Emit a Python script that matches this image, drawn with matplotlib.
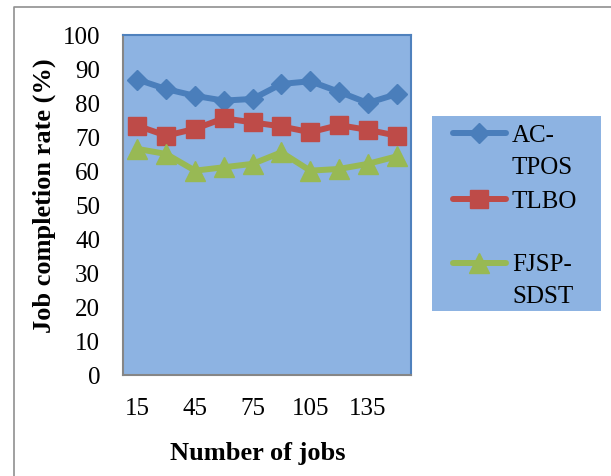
import matplotlib.pyplot as plt
from matplotlib.lines import Line2D
from matplotlib.patches import Rectangle

plt.rcParams['font.family'] = ['Liberation Serif', 'DejaVu Serif']

# data
jobs = [15, 30, 45, 60, 75, 90, 105, 120, 135, 150]
ac_tpos = [86.9, 84.1, 82.1, 80.7, 81.2, 85.6, 86.4, 83.3, 80.0, 82.6]
tlbo = [73.3, 70.4, 72.4, 75.5, 74.3, 73.1, 71.4, 73.5, 72.1, 70.4]
fjsp_sdst = [66.5, 65.0, 60.1, 61.1, 62.1, 65.5, 60.1, 60.6, 62.1, 64.3]
xtick_vals = [15, 45, 75, 105, 135]

names = ['AC-\nTPOS', 'TLBO', 'FJSP-\nSDST']
colors = ['#4A7EBB', '#BE4B48', '#98B954']
markers = ['D', 's', '^']
msizes = [10, 13.5, 14]
bg = '#8DB3E2'
fs = 18

W, H = 611, 477
fig = plt.figure(figsize=(W / 100, H / 100), dpi=100)
ax = fig.add_axes([123 / W, 1 - 376 / H, (411 - 123) / W, (376 - 36) / H])
ax.set_facecolor(bg)

for ys, c, m, ms in zip([ac_tpos, tlbo, fjsp_sdst], colors, markers, msizes):
    ax.plot(jobs, ys, color=c, lw=4.3, marker=m, ms=ms, mec=c, mfc=c,
            solid_joinstyle='round', solid_capstyle='round')

ax.set_xlim(7.5, 157.5)
ax.set_ylim(0, 100)
ax.set_xticks(xtick_vals)
ax.set_yticks(range(0, 101, 10))
ax.tick_params(length=0, labelsize=fs, pad=16)
ax.tick_params(axis='y', pad=16.5)
for s in ['left', 'bottom']:
    ax.spines[s].set_color('#868686')
    ax.spines[s].set_linewidth(1.5)
for s in ['top', 'right']:
    ax.spines[s].set_color('#4F81BD')
    ax.spines[s].set_linewidth(1.5)

fig.text(258 / W, 1 - 454 / H, 'Number of jobs', fontsize=19, fontweight='bold',
         ha='center', va='center')
fig.text(44 / W, 1 - 196 / H, 'Job completion rate (%)', fontsize=19,
         fontweight='bold', rotation=90, ha='center', va='center')

# legend box drawn by hand to match the spreadsheet layout
fig.add_artist(Rectangle((432 / W, 1 - 312 / H), (601 - 432) / W, (312 - 117) / H,
                         transform=fig.transFigure, facecolor=bg, edgecolor='none'))
handle_rows = [134, 200, 264]
text_rows = [[142, 174], [208], [271, 303]]
for name, c, m, ms, y, bases in zip(names, colors, markers, msizes, handle_rows, text_rows):
    yf = 1 - y / H
    fig.add_artist(Line2D([453 / W, 506 / W], [yf, yf], transform=fig.transFigure,
                          color=c, lw=4.3, solid_capstyle='round'))
    fig.add_artist(Line2D([479 / W], [yf], transform=fig.transFigure, color=c,
                          marker=m, ms=ms, mec=c, mfc=c))
    for line, b in zip(name.split('\n'), bases):
        fig.text(512 / W, 1 - b / H, line, fontsize=fs, ha='left', va='baseline')

# outer frame
fig.add_artist(Line2D([14 / W, 14 / W, 1], [0, 1 - 8 / H, 1 - 8 / H],
                      transform=fig.transFigure, color='#909090', lw=1.2))

fig.savefig('out.png', dpi=100)
